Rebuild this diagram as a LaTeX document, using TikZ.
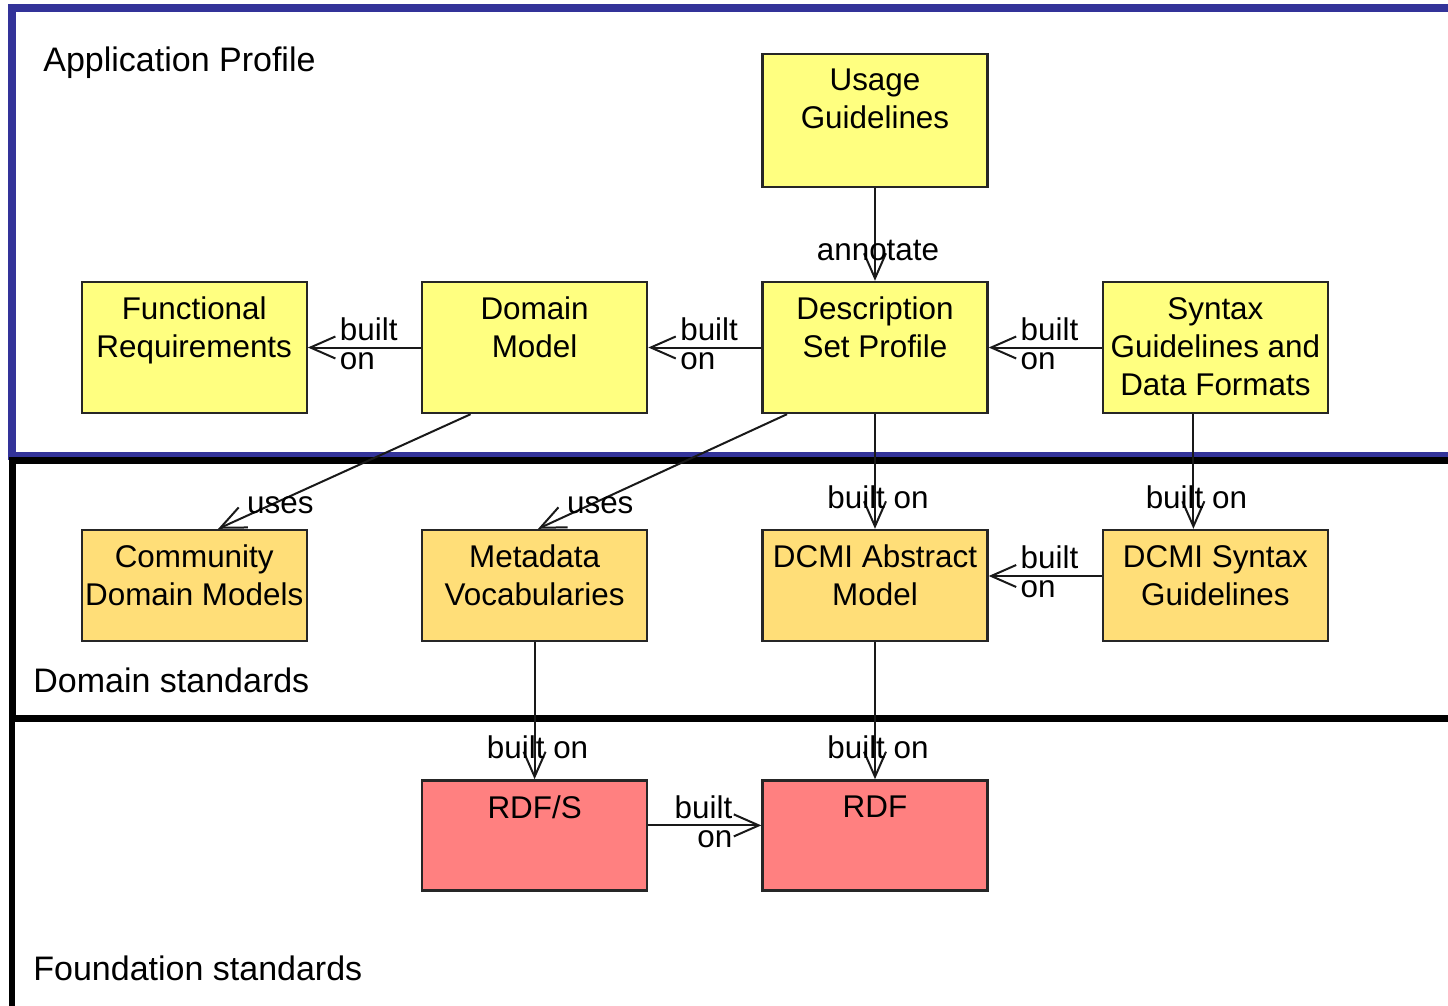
\documentclass[tikz,border=0pt]{standalone}
\usepackage{fontspec}
\setmainfont{Liberation Sans}
\usetikzlibrary{positioning, arrows.meta}

\definecolor{apblue}{RGB}{51,51,153}
\definecolor{apyellow}{RGB}{255,255,128}
\definecolor{dsorange}{RGB}{255,222,120}
\definecolor{fsred}{RGB}{255,128,128}

\newcommand{\boxfont}{\fontsize{15.7}{19}\selectfont}
\newcommand{\linkfont}{\fontsize{15.7}{14.6}\selectfont}
\newcommand{\regionfont}{\fontsize{17}{20}\selectfont}

\tikzset{
	box/.style={draw=black!85, line width=1.2pt, minimum width=112.5pt, inner sep=0pt},
	apbox/.style={box, fill=apyellow, minimum height=65.5pt},
	dsbox/.style={box, fill=dsorange, minimum height=55.5pt},
	fsbox/.style={box, fill=fsred, minimum height=55pt},
	boxtext/.style={anchor=north, align=center, inner sep=0pt, font=\boxfont, yshift=-8pt},
	link/.style={line width=1pt, draw=black!90, -{Straight Barb[length=12.5pt,width=11pt]}},
	leftlabel/.style={pos=1, anchor=west, align=left, inner sep=0pt, font=\linkfont, xshift=15.5pt, yshift=2pt},
	rightlabel/.style={pos=1, anchor=east, align=right, inner sep=0pt, font=\linkfont, xshift=-14pt, yshift=2pt},
	downlabel/.style={pos=1, anchor=south, inner sep=0pt, font=\boxfont, xshift=1.5pt, yshift=9.5pt},
	useslabel/.style={pos=1, anchor=south west, inner sep=0pt, font=\boxfont, xshift=14pt, yshift=7pt},
	region/.style={anchor=west, inner sep=0pt, font=\regionfont}
}

\begin{document}
\begin{tikzpicture}[x=0.5pt, y=-0.5pt]
		\useasboundingbox (0,0) rectangle (1448,1006);
		
		% Frames
		\draw[apblue, line width=4pt] (12,8) rectangle (1470,456);
		\draw[line width=3.5pt] (12,460) rectangle (1470,718);
		\draw[line width=3pt] (12,718) rectangle (1470,1040);
		\node[region] (aplabel) at (43,63) {Application Profile};
		\node[region] (dslabel) at (33,680) {Domain standards};
		\node[region] (fslabel) at (33,968) {Foundation standards};
		
		% Application profile
		\node[apbox] (dsp) at (875,347.5) {};
		\node[apbox, left=56.5pt of dsp] (dm) {};
		\node[apbox, left=56.5pt of dm] (fr) {};
		\node[apbox, right=56.5pt of dsp] (sgdf) {};
		\node[apbox, above=46.3pt of dsp, minimum height=66.5pt] (usage) {};
		
		% Domain standards
		\node[dsbox, below=57.3pt of dsp] (dam) {};
		\node[dsbox, below=57.3pt of dm] (mv) {};
		\node[dsbox, below=57.3pt of fr] (cdm) {};
		\node[dsbox, below=57.3pt of sgdf] (dsg) {};
		
		% Foundation standards
		\node[fsbox, below=68.5pt of dam] (rdf) {};
		\node[fsbox, below=68.5pt of mv] (rdfs) {};
		
		% Box texts
		\node[boxtext] (usagetext) at (usage.north) {Usage\\Guidelines};
		\node[boxtext] (frtext) at (fr.north) {Functional\\Requirements};
		\node[boxtext] (dmtext) at (dm.north) {Domain\\Model};
		\node[boxtext] (dsptext) at (dsp.north) {Description\\Set Profile};
		\node[boxtext] (sgdftext) at (sgdf.north) {Syntax\\Guidelines and\\Data Formats};
		\node[boxtext] (cdmtext) at (cdm.north) {Community\\Domain Models};
		\node[boxtext] (mvtext) at (mv.north) {Metadata\\Vocabularies};
		\node[boxtext] (damtext) at (dam.north) {DCMI Abstract\\Model};
		\node[boxtext] (dsgtext) at (dsg.north) {DCMI Syntax\\Guidelines};
		\node[boxtext] (rdfstext) at (rdfs.north) {RDF/S};
		\node[boxtext] (rdftext) at (rdf.north) {RDF};
		
		% Horizontal arrows
		\draw[link] (dm.west) -- (fr.east) node[leftlabel] {built\\on};
		\draw[link] (dsp.west) -- (dm.east) node[leftlabel] {built\\on};
		\draw[link] (sgdf.west) -- (dsp.east) node[leftlabel] {built\\on};
		\draw[link] ([yshift=4.75pt]dsg.west) -- ([yshift=4.75pt]dam.east) node[leftlabel] {built\\on};
		\draw[link] ([yshift=5pt]rdfs.east) -- ([yshift=5pt]rdf.west) node[rightlabel] {built\\on};
		
		% Vertical arrows
		\draw[link] (usage.south) -- (dsp.north) node[downlabel] {annotate};
		\draw[link] (dsp.south) -- (dam.north) node[downlabel] {built on};
		\draw[link] ([xshift=-11pt]sgdf.south) -- ([xshift=-11pt]dsg.north) node[downlabel] {built on};
		\draw[link] (mv.south) -- (rdfs.north) node[downlabel] {built on};
		\draw[link] (dam.south) -- (rdf.north) node[downlabel] {built on};
		
		% Diagonal arrows
		\draw[link] ([xshift=-32pt]dm.south) -- ([xshift=12pt]cdm.north) node[useslabel] {uses};
		\draw[link] ([xshift=-44pt]dsp.south) -- ([xshift=1.75pt]mv.north) node[useslabel] {uses};
	\end{tikzpicture}
\end{document}
